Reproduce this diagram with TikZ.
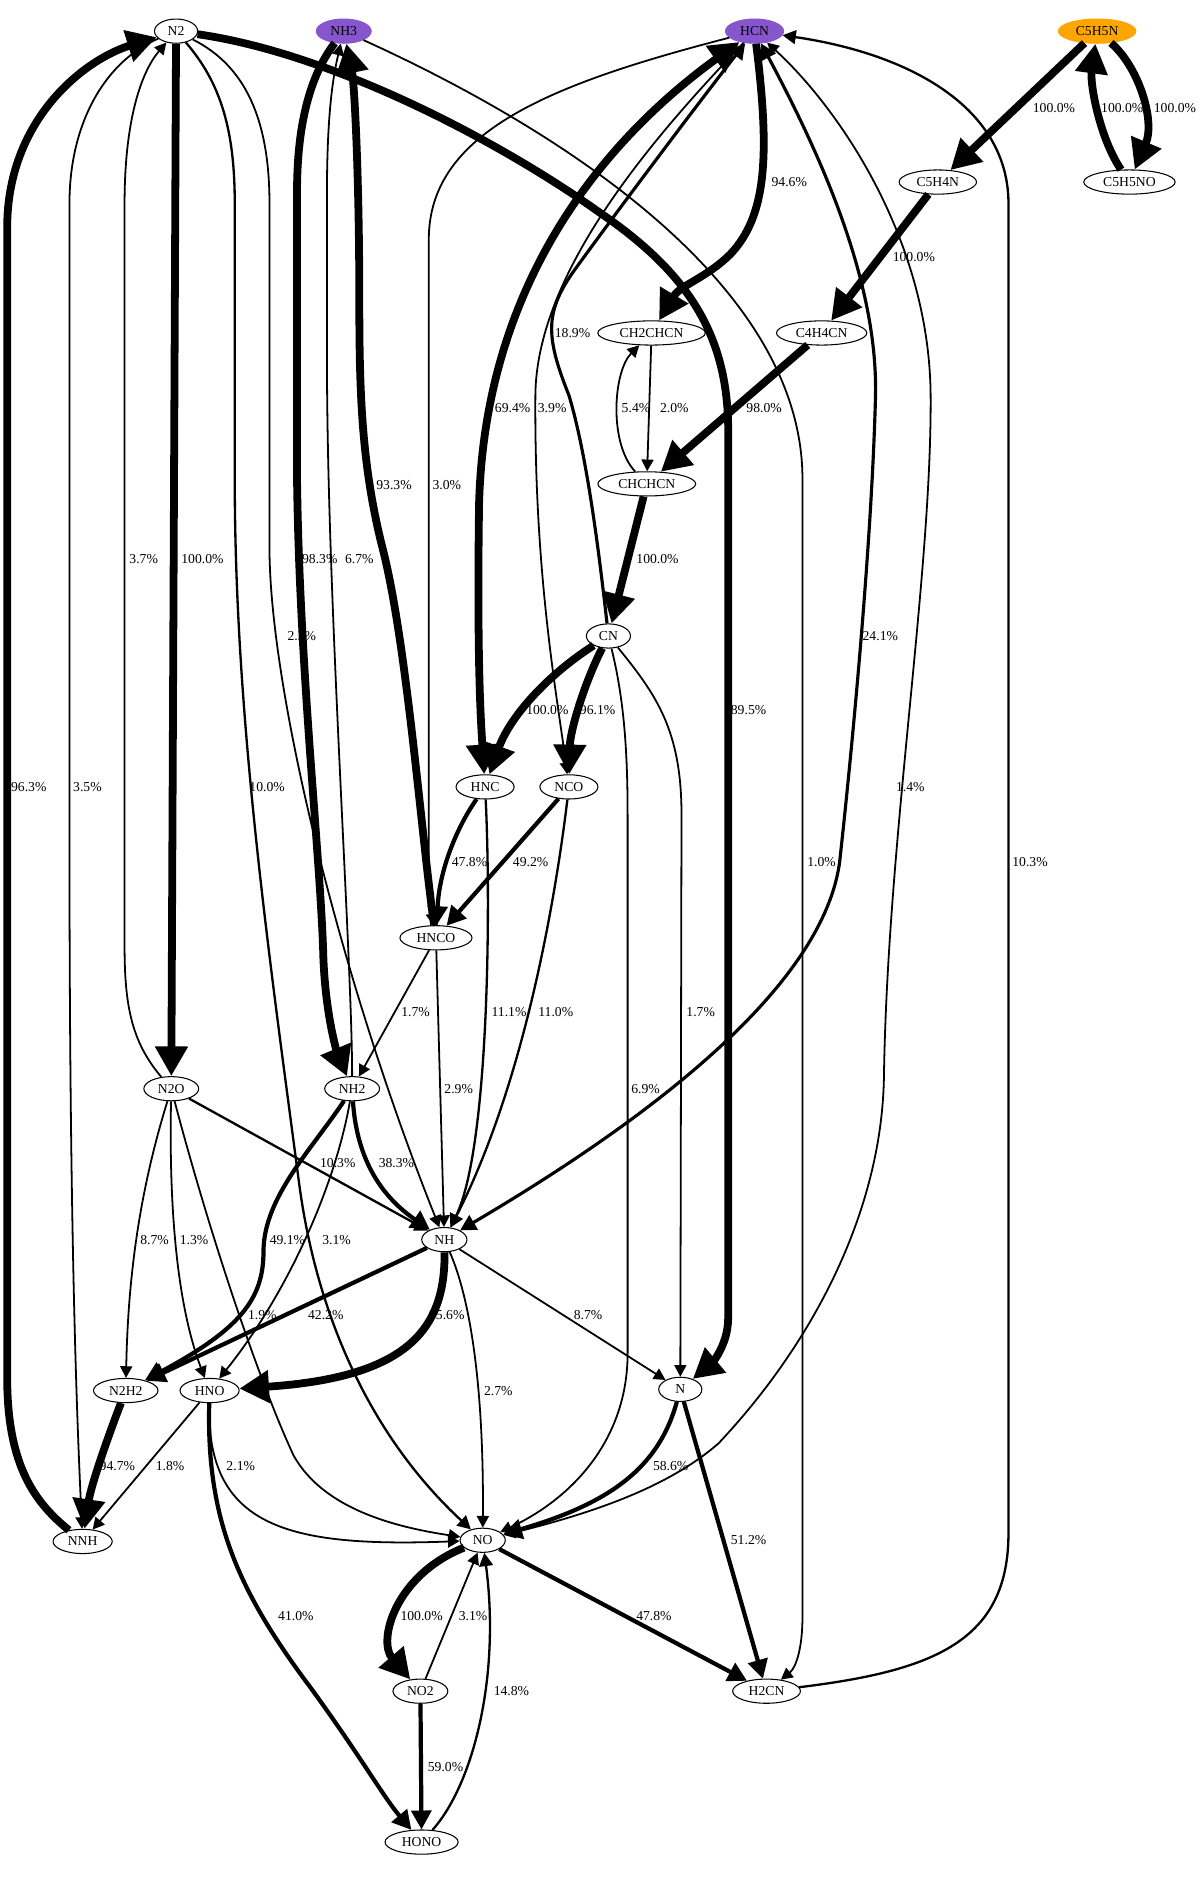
\documentclass[tikz,border=0pt]{standalone}
\usepackage{fontspec}
\setmainfont{Liberation Serif}
\usetikzlibrary{arrows.meta, shapes.geometric}
\definecolor{SrcPurple}{RGB}{136,86,204}
\definecolor{SrcOrange}{RGB}{255,165,0}

\begin{document}
\begin{tikzpicture}[x=0.02cm, y=-0.02cm,
	>={Triangle[length=3pt 3, width=3pt 3.2]},
	sp/.style={ellipse, draw, line width=0.5pt, inner xsep=2.9pt, inner ysep=0pt,
		minimum width=20.5pt, minimum height=11.5pt, font=\fontsize{6.5}{7}\selectfont},
	lbl/.style={font=\fontsize{6.5}{7}\selectfont, inner sep=0pt},
	e1/.style={->, line width=0.85pt},
	e2/.style={->, line width=1.1pt},
	e3/.style={->, line width=1.5pt},
	e4/.style={->, line width=2pt},
	e5/.style={->, line width=3.7pt}]
	\useasboundingbox (0,0) rectangle (1002,1568);

	% especies
	\foreach \n/\x/\y in {N2/147/26, C5H4N/783/152, C5H5NO/943/152, CH2CHCN/544/278,
		C4H4CN/686/278, CHCHCN/540/404, CN/508/531, HNC/405/657, NCO/475/657,
		HNCO/364/783, N2O/143/909, NH2/294/909, NH/371/1035, N2H2/105/1161,
		HNO/175/1161, N/568/1160, NNH/69/1287, NO/403/1286, NO2/351/1412,
		H2CN/640/1412, HONO/352/1538}
		\node[sp] (\n) at (\x,\y) {\n};
	\node[sp, fill=SrcPurple, draw=SrcPurple] (NH3) at (287,26) {NH3};
	\node[sp, fill=SrcPurple, draw=SrcPurple] (HCN) at (630,26) {HCN};
	\node[sp, fill=SrcOrange, draw=SrcOrange] (C5H5N) at (916,26) {C5H5N};

	% N2 y NH3
	\draw[e5] (NNH) .. controls (30,1255) and (6,1225) .. (6,1150) -- (6,190) .. controls (6,100) and (70,50) .. (N2);
	\draw[e1] (N2O) .. controls (110,870) and (104,840) .. (104,790) -- (104,170) .. controls (104,100) and (118,60) .. (N2);
	\draw[e1] (N2) .. controls (90,50) and (58,100) .. (58,170) -- (58,700) .. controls (58,1050) and (65,1200) .. (NNH);
	\draw[e5] (N2) -- (N2O);
	\draw[e2] (N2) .. controls (185,70) and (196,110) .. (196,170) -- (196,400) .. controls (196,600) and (225,800) .. (250,990) .. controls (265,1100) and (310,1200) .. (NO);
	\draw[e1] (N2) .. controls (205,55) and (225,100) .. (225,170) -- (225,460) .. controls (226,580) and (285,820) .. (NH);
	\draw[e5] (N2) .. controls (280,45) and (420,120) .. (500,177) .. controls (575,228) and (608,280) .. (608,360) -- (608,1100) .. controls (608,1125) and (592,1140) .. (N);
	\draw[e5] (NH3) .. controls (265,55) and (248,90) .. (248,160) -- (248,400) .. controls (250,560) and (268,720) .. (270,800) .. controls (272,850) and (282,880) .. (NH2);
	\draw[e1] (NH2) .. controls (294,800) and (273,500) .. (273,300) -- (273,160) .. controls (273,90) and (279,60) .. (NH3);
	\draw[e5] (HNCO) .. controls (352,700) and (340,540) .. (320,460) .. controls (302,390) and (300,330) .. (300,250) .. controls (300,150) and (296,70) .. (NH3);
	\draw[e1] (NH3) .. controls (450,100) and (670,230) .. (670,400) -- (670,1350) .. controls (670,1375) and (665,1392) .. (H2CN);

	% HCN
	\draw[e5, <->] (HCN) .. controls (500,120) and (405,240) .. (400,420) .. controls (398,560) and (402,610) .. (HNC);
	\draw[e1] (HCN) .. controls (560,100) and (448,220) .. (447,330) .. controls (446,480) and (465,580) .. (NCO);
	\draw[e3] (CN) .. controls (500,460) and (490,380) .. (475,330) .. controls (455,280) and (455,260) .. (480,225) .. controls (520,170) and (580,90) .. (HCN);
	\draw[e5] (HCN) .. controls (643,130) and (640,180) .. (610,212) .. controls (590,232) and (568,238) .. (CH2CHCN);
	\draw[e3, <->] (HCN) .. controls (680,120) and (733,230) .. (731,330) .. controls (728,450) and (712,620) .. (701,720) .. controls (690,800) and (600,900) .. (NH);
	\draw[e1, <->] (NO) .. controls (500,1262) and (560,1240) .. (600,1205) .. controls (680,1120) and (736,1010) .. (738,900) .. controls (741,700) and (778,480) .. (777,330) .. controls (776,200) and (700,90) .. (HCN);
	\draw[e2] (H2CN) .. controls (780,1395) and (842,1370) .. (842,1280) -- (842,170) .. controls (842,90) and (760,45) .. (HCN);
	\draw[e1] (HCN) .. controls (460,70) and (358,110) .. (358,200) -- (358,720) .. controls (358,745) and (360,760) .. (HNCO);

	% piridina
	\draw[e5] (C5H5N) -- (C5H4N);
	\draw[e5] (C5H5N) .. controls (950,55) and (965,100) .. (C5H5NO);
	\draw[e5] (C5H5NO) .. controls (918,115) and (910,70) .. (C5H5N);
	\draw[e5] (C5H4N) -- (C4H4CN);
	\draw[e5] (C4H4CN) -- (CHCHCN);
	\draw[e1] (CH2CHCN) -- (CHCHCN);
	\draw[e1] (CHCHCN) .. controls (508,370) and (512,310) .. (CH2CHCN);
	\draw[e5] (CHCHCN) -- (CN);

	% CN, HNC, NCO, HNCO
	\draw[e5] (CN) .. controls (455,565) and (425,600) .. (HNC);
	\draw[e5] (CN) .. controls (488,570) and (476,610) .. (NCO);
	\draw[e1] (CN) .. controls (520,580) and (524,620) .. (524,680) -- (524,1130) .. controls (524,1200) and (480,1250) .. (NO);
	\draw[e1] (CN) .. controls (548,580) and (569,610) .. (569,680) -- (N);
	\draw[e4] (HNC) .. controls (382,690) and (367,725) .. (HNCO);
	\draw[e4] (NCO) -- (HNCO);
	\draw[e2] (HNC) .. controls (410,760) and (408,960) .. (NH);
	\draw[e2] (NCO) .. controls (465,740) and (440,900) .. (NH);
	\draw[e1] (HNCO) -- (NH);
	\draw[e1] (HNCO) -- (NH2);

	% N2O y NH2
	\draw[e2] (N2O) -- (NH);
	\draw[e4] (NH2) .. controls (298,970) and (320,1000) .. (NH);
	\draw[e4] (NH2) .. controls (260,960) and (220,1000) .. (220,1045) .. controls (220,1085) and (200,1110) .. (N2H2);
	\draw[e1] (NH2) .. controls (280,990) and (240,1080) .. (HNO);
	\draw[e1] (N2O) .. controls (118,990) and (107,1060) .. (N2H2);
	\draw[e1] (N2O) .. controls (141,1010) and (148,1090) .. (HNO);
	\draw[e1] (N2O) .. controls (175,1030) and (215,1150) .. (245,1215) .. controls (270,1260) and (330,1275) .. (NO);

	% NH
	\draw[e4] (NH) -- (N2H2);
	\draw[e5] (NH) .. controls (372,1110) and (340,1150) .. (HNO);
	\draw[e1] (NH) -- (N);
	\draw[e1] (NH) .. controls (395,1090) and (404,1170) .. (NO);

	% parte baja
	\draw[e5] (N2H2) .. controls (90,1200) and (76,1240) .. (NNH);
	\draw[e1] (HNO) -- (NNH);
	\draw[e1] (HNO) .. controls (172,1275) and (240,1292) .. (NO);
	\draw[e4] (HNO) .. controls (172,1270) and (200,1330) .. (260,1410) .. controls (300,1465) and (320,1500) .. (HONO);
	\draw[e4] (N) .. controls (550,1225) and (510,1255) .. (NO);
	\draw[e4] (N) -- (H2CN);
	\draw[e4] (NO) -- (H2CN);
	\draw[e5] (NO) .. controls (330,1315) and (315,1370) .. (NO2);
	\draw[e1] (NO2) -- (NO);
	\draw[e4] (NO2) -- (HONO);
	\draw[e2] (HONO) .. controls (395,1490) and (418,1400) .. (NO);

	% etiquetas de flujo
	\foreach \v/\x/\y [count=\i] in {96.3/24/657, 3.5/73/657, 3.7/120/467, 100.0/169/467,
		2.3/252/531, 10.0/223/657, 98.3/267/467, 6.7/300/467, 93.3/329/405, 3.0/373/405,
		69.4/428/341, 3.9/461/341, 18.9/478/278, 94.6/659/152, 100.0/880/90, 100.0/937/90,
		100.0/981/90, 100.0/763/215, 98.0/638/341, 5.4/531/341, 2.0/563/341, 100.0/549/467,
		24.1/735/531, 89.5/625/593, 1.4/760/657, 10.3/860/720, 100.0/457/593, 96.1/499/593,
		47.8/392/720, 49.2/443/720, 1.0/686/720, 1.7/347/845, 11.1/425/845, 11.0/464/845,
		1.7/585/845, 2.9/383/909, 6.9/539/909, 10.3/282/971, 38.3/331/971, 8.7/129/1035,
		1.3/162/1035, 49.1/240/1035, 3.1/281/1035, 1.9/219/1098, 42.2/272/1098, 95.6/373/1098,
		8.7/491/1098, 2.7/416/1161, 94.7/98/1224, 1.8/142/1224, 2.1/201/1224, 58.6/560/1224,
		51.2/625/1286, 100.0/352/1349, 3.1/395/1349, 47.8/546/1349, 41.0/247/1349,
		14.8/427/1412, 59.0/372/1475}
		\node[lbl] (lab\i) at (\x,\y) {\v\%};
\end{tikzpicture}
\end{document}
